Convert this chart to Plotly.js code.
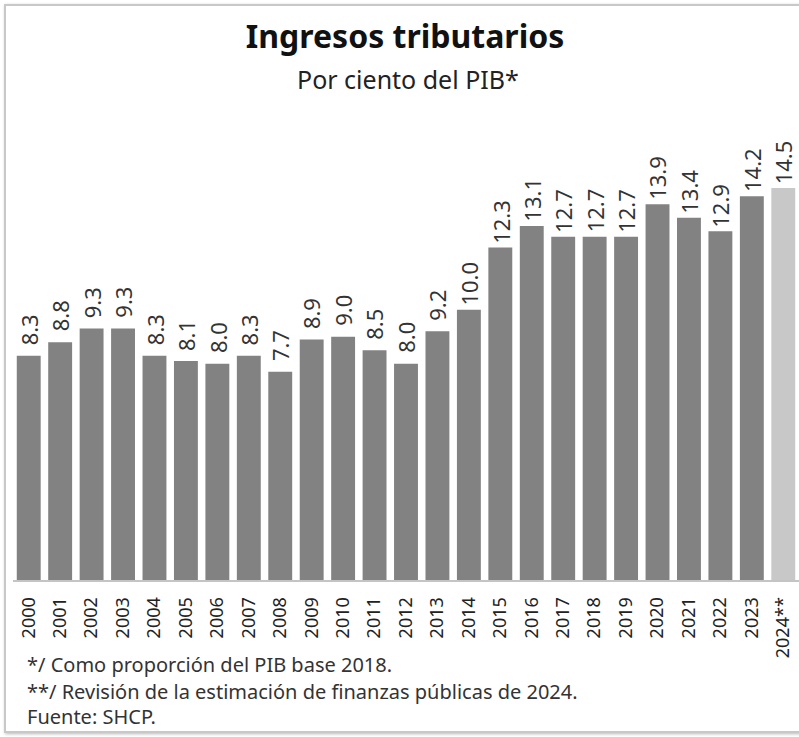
<!DOCTYPE html>
<html>
<head>
<meta charset="utf-8">
<script src="https://cdn.plot.ly/plotly-3.0.1.min.js"></script>
<style>
html,body{margin:0;padding:0;background:#fff;}
#wrap{position:relative;width:799px;height:737px;}
#chart{width:799px;height:737px;}
#frame{position:absolute;left:4px;top:4px;width:820px;height:725px;border:2px solid #c8c8c8;box-shadow:1px 1px 3px #bbb;pointer-events:none;}
</style>
</head>
<body>
<div id="wrap"><div id="chart"></div><div id="frame"></div></div>
<script>
const years = ['2000','2001','2002','2003','2004','2005','2006','2007','2008','2009','2010','2011','2012','2013','2014','2015','2016','2017','2018','2019','2020','2021','2022','2023','2024**'];
const values = [8.3,8.8,9.3,9.3,8.3,8.1,8.0,8.3,7.7,8.9,9.0,8.5,8.0,9.2,10.0,12.3,13.1,12.7,12.7,12.7,13.9,13.4,12.9,14.2,14.5];
const labels = values.map(v => v.toFixed(1));
const colors = years.map(y => y.indexOf('**') >= 0 ? '#c8c8c8' : '#828282');
const titleText = 'Ingresos tributarios';
const subtitleText = 'Por ciento del PIB*';
const notes = ['*/ Como proporción del PIB base 2018.', '**/ Revisión de la estimación de finanzas públicas de 2024.', 'Fuente: SHCP.'];

const FONT = 'Noto Sans, Open Sans, sans-serif';
const trace = {
  type: 'bar', x: years, y: values,
  marker: {color: colors, line: {width: 0}},
  hoverinfo: 'x+y'
};
const noteY = [-0.19, -0.251, -0.307];
const valueLabels = years.map((yr, i) => ({
  text: labels[i], x: i, y: values[i], xref: 'x', yref: 'y',
  xanchor: 'center', yanchor: 'middle', yshift: 26, textangle: -90,
  showarrow: false, font: {family: FONT, size: 22, color: '#333'}
}));
const annotations = [{
  text: subtitleText, xref: 'paper', yref: 'paper', x: 0.503, y: (580 - 79) / 446,
  xanchor: 'center', yanchor: 'middle', showarrow: false,
  font: {family: FONT, size: 25, color: '#222'}
}].concat(notes.map((t, i) => ({
  text: t, xref: 'paper', yref: 'paper', x: 0.0153, y: noteY[i],
  xanchor: 'left', yanchor: 'middle', showarrow: false,
  font: {family: FONT, size: 20, color: '#333'}
}))).concat(valueLabels);
const layout = {
  width: 799, height: 737,
  margin: {l: 13, r: 0, t: 134, b: 157},
  paper_bgcolor: '#fff', plot_bgcolor: '#fff',
  showlegend: false, bargap: 0.24,
  title: {text: '<b>' + titleText + '</b>', x: 0.507, xref: 'container', y: 1 - 37/737, yref: 'container', yanchor: 'middle', xanchor: 'center',
          font: {family: FONT, size: 32, color: '#111'}},
  xaxis: {type: 'category', categoryorder: 'array', categoryarray: years, range: [-0.5, years.length - 0.5],
          tickangle: -90, showline: true, linecolor: '#c4c4c4', linewidth: 2,
          ticks: '', showgrid: false, zeroline: false, ticklabelstandoff: 8,
          tickfont: {family: FONT, size: 18, color: '#222'}, automargin: false},
  yaxis: {range: [0, 16.5], visible: false, showgrid: false, zeroline: false, fixedrange: true},
  annotations: annotations
};
Plotly.newPlot('chart', [trace], layout, {displayModeBar: false, staticPlot: true});
</script>
</body>
</html>
